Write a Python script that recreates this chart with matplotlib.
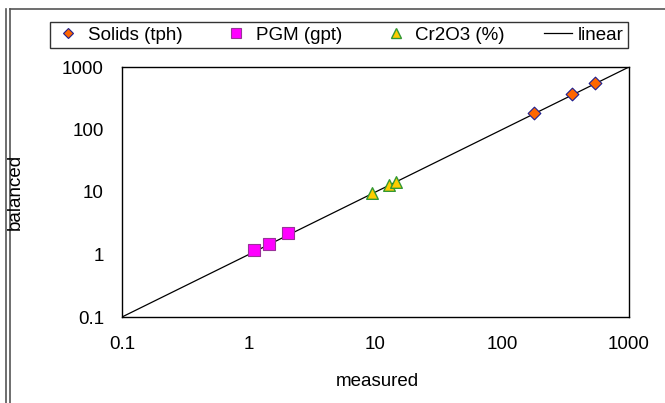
import matplotlib.pyplot as plt
from matplotlib.lines import Line2D

plt.rcParams['font.family'] = ['Liberation Sans', 'DejaVu Sans']

# measured vs balanced values
solids_meas = [178, 355, 540]
solids_bal = [184, 366, 548]
pgm_meas = [1.11, 1.44, 2.05]
pgm_bal = [1.17, 1.49, 2.18]
cr_meas = [9.44, 12.8, 14.4]
cr_bal = [9.75, 12.9, 14.5]
linear_x = [0.1, 1000]
linear_y = [0.1, 1000]
ticks = [0.1, 1, 10, 100, 1000]
tick_labels = ['0.1', '1', '10', '100', '1000']

W, H = 665, 403
FS = 13.5
fig = plt.figure(figsize=(W / 100, H / 100), dpi=100)
ax = fig.add_axes([122 / W, 1 - 317 / H, (629 - 122) / W, (317 - 67) / H])

ax.plot(linear_x, linear_y, color='black', lw=0.9, label='linear', zorder=2)
ax.scatter(solids_meas, solids_bal, marker='D', s=42, facecolor='#FF6600',
           edgecolor='#1F1F8F', linewidth=0.8, label='Solids (tph)', zorder=3)
ax.scatter(pgm_meas, pgm_bal, marker='s', s=70, facecolor='#FF00FF',
           edgecolor='#993399', linewidth=0.8, label='PGM (gpt)', zorder=3)
ax.scatter(cr_meas, cr_bal, marker='^', s=70, facecolor='#FFCC00',
           edgecolor='#339933', linewidth=1.0, label='Cr2O3 (%)', zorder=3)

ax.set_xscale('log')
ax.set_yscale('log')
ax.set_xlim(0.1, 1000)
ax.set_ylim(0.1, 1000)
ax.set_xticks(ticks)
ax.set_xticklabels(tick_labels)
ax.set_yticks(ticks)
ax.set_yticklabels(tick_labels)
ax.minorticks_off()
ax.tick_params(length=0, labelsize=FS)
ax.tick_params(axis='y', pad=13)
ax.tick_params(axis='x', pad=14)
for s in ax.spines.values():
    s.set_linewidth(1.0)

fig.text(15 / W, 1 - 192 / H, 'balanced', rotation=90, ha='center', va='center', fontsize=FS)
fig.text(377 / W, 1 - 381 / H, 'measured', ha='center', va='center', fontsize=FS)

handles = [
    Line2D([], [], marker='D', ls='none', markersize=5.5, markerfacecolor='#FF6600',
           markeredgecolor='#1F1F8F', markeredgewidth=0.8),
    Line2D([], [], marker='s', ls='none', markersize=6.5, markerfacecolor='#FF00FF',
           markeredgecolor='#993399', markeredgewidth=0.8),
    Line2D([], [], marker='^', ls='none', markersize=7, markerfacecolor='#FFCC00',
           markeredgecolor='#339933', markeredgewidth=1.0),
    Line2D([], [], color='black', lw=0.9),
]
leg = fig.legend(handles, ['Solids (tph)', 'PGM (gpt)', 'Cr2O3 (%)', 'linear'],
                 loc='center', bbox_to_anchor=(339 / W, 1 - 35 / H), ncol=4,
                 frameon=True, fancybox=False, fontsize=FS, handlelength=1.5,
                 handletextpad=0.3, columnspacing=2.1, borderpad=0.25,
                 borderaxespad=0)
leg.get_frame().set_edgecolor('black')
leg.get_frame().set_linewidth(1.0)

# outer chart frame lines
fig.add_artist(Line2D([6 / W, 6 / W], [0, 1 - 9 / H], color='#555555', lw=1.2))
fig.add_artist(Line2D([10 / W, 10 / W], [0, 1 - 9 / H], color='#555555', lw=1.2))
fig.add_artist(Line2D([10 / W, 1], [1 - 9 / H, 1 - 9 / H], color='#555555', lw=1.2))

fig.savefig('out.png', dpi=100)
